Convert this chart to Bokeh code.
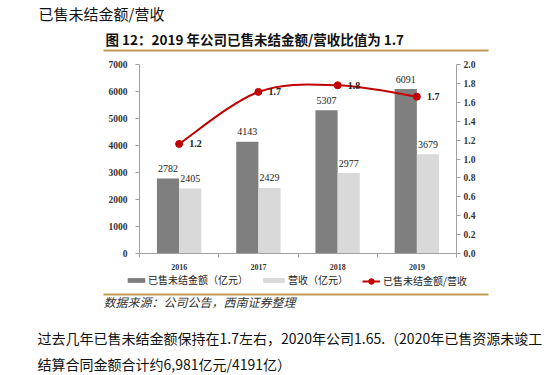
import numpy as np
from bokeh.plotting import figure
from bokeh.models import (Range1d, LinearAxis, FixedTicker, Label, LabelSet,
                          ColumnDataSource, Legend, LegendItem, BoxAnnotation,
                          NumeralTickFormatter)
from bokeh.embed import file_html
from bokeh.resources import INLINE

# ---------------- data ----------------
years = ["2016", "2017", "2018", "2019"]
unsettled = [2782, 4143, 5307, 6091]          # 已售未结金额（亿元）
revenue = [2405, 2429, 2977, 3679]            # 营收（亿元）
ratio = [1.16, 1.71, 1.78, 1.66]              # 已售未结金额/营收
ratio_labels = ["1.2", "1.7", "1.8", "1.7"]
left_ticks = [0, 1000, 2000, 3000, 4000, 5000, 6000, 7000]
right_ticks = [0.0, 0.2, 0.4, 0.6, 0.8, 1.0, 1.2, 1.4, 1.6, 1.8, 2.0]

top_text = "已售未结金额/营收"
title_text = "图 12：2019 年公司已售未结金额/营收比值为 1.7"
source_text = "数据来源：公司公告，西南证券整理"
para1 = "过去几年已售未结金额保持在1.7左右，2020年公司1.65.（2020年已售资源未竣工"
para2 = "结算合同金额合计约6,981亿元/4191亿）"
legend_labels = ["已售未结金额（亿元）", "营收（亿元）", "已售未结金额/营收"]

# ---------------- style / layout (pixels) ----------------
DARK = "#7f7f7f"
LIGHT = "#d9d9d9"
RED = "#c00000"
GOLD = "#c49a52"
AXIS = "#a0a0a0"
CJK = "Noto Sans CJK SC"
NUM = "Liberation Serif"

W, H = 554, 375
AX_L, AX_R = 139, 456      # pixel x of left / right axis
AX_B, AX_T = 253, 64       # pixel y of zero line / top tick

n = len(years)
cat_w = (AX_R - AX_L) / n
ky = (AX_B - AX_T) / left_ticks[-1]
kr = (AX_B - AX_T) / right_ticks[-1]


def dx(px):   # pixel x -> data x
    return (px - AX_L) / cat_w


def dy(py):   # pixel y -> data y (left scale)
    return (AX_B - py) / ky


xc = np.arange(n) + 0.5
bw = 0.28

src = ColumnDataSource(dict(
    x=xc, xd=xc - bw / 2, xl=xc + bw / 2,
    unsettled=unsettled, revenue=revenue, ratio=ratio,
    ul=[str(v) for v in unsettled], rl=[str(v) for v in revenue],
    ratl=ratio_labels))

p = figure(width=W, height=H, output_backend="svg", toolbar_location=None,
           title=None,
           x_range=Range1d(dx(0), dx(W)), y_range=Range1d(dy(H), dy(0)),
           min_border=0)
p.extra_y_ranges = {"ratio": Range1d(-(H - AX_B) / kr, AX_B / kr)}
p.grid.visible = False
p.outline_line_color = None
p.background_fill_color = "white"
p.border_fill_color = "white"

dark = p.vbar(x="xd", top="unsettled", width=bw, source=src,
              fill_color=DARK, line_color=None)
light = p.vbar(x="xl", top="revenue", width=bw, source=src,
               fill_color=LIGHT, line_color=None)


def tangents(v):
    v = np.asarray(v, float)
    m = np.empty_like(v)
    m[1:-1] = (v[2:] - v[:-2]) / 2
    m[0] = (v[1] - v[0]) / 2
    m[-1] = (v[-1] - v[-2]) / 2
    return m


r = np.asarray(ratio, float)
mx, my = tangents(xc), tangents(r)
curve = p.bezier(x0=xc[:-1], y0=r[:-1], x1=xc[1:], y1=r[1:],
                 cx0=xc[:-1] + mx[:-1] / 3, cy0=r[:-1] + my[:-1] / 3,
                 cx1=xc[1:] - mx[1:] / 3, cy1=r[1:] - my[1:] / 3,
                 line_color=RED, line_width=2, y_range_name="ratio")
dots = p.scatter(x="x", y="ratio", source=src, size=7, fill_color=RED,
                 line_color=RED, y_range_name="ratio")

# value labels
p.add_layout(LabelSet(x="xd", y="unsettled", text="ul", source=src,
                      y_offset=10, text_align="center", text_baseline="middle",
                      text_font=NUM, text_font_size="10px", text_color="#222"))
p.add_layout(LabelSet(x="xl", y="revenue", text="rl", source=src,
                      y_offset=10, text_align="center", text_baseline="middle",
                      text_font=NUM, text_font_size="10px", text_color="#222"))
p.add_layout(LabelSet(x="x", y="ratio", text="ratl", source=src,
                      y_range_name="ratio", x_offset=10,
                      text_align="left", text_baseline="middle",
                      text_font=NUM, text_font_size="10px",
                      text_font_style="bold", text_color="#222"))


# axes (fixed at their pixel positions inside the full-canvas frame)
def style_axis(ax):
    ax.axis_line_color = AXIS
    ax.major_tick_line_color = AXIS
    ax.minor_tick_line_color = AXIS
    ax.major_tick_out = 4
    ax.major_tick_in = 0
    ax.minor_tick_out = 0
    ax.minor_tick_in = 0
    ax.major_label_text_font = NUM
    ax.major_label_text_font_style = "bold"
    ax.major_label_text_font_size = "9.5px"
    ax.major_label_text_color = "#333"


yl = p.yaxis[0]
yl.ticker = FixedTicker(ticks=left_ticks)
yl.fixed_location = 0
yl.bounds = (0, left_ticks[-1])
style_axis(yl)
yl.major_label_standoff = 8

yr = LinearAxis(y_range_name="ratio", ticker=FixedTicker(ticks=right_ticks),
                formatter=NumeralTickFormatter(format="0.0"),
                fixed_location=n, bounds=(0, right_ticks[-1]))
style_axis(yr)
yr.major_label_standoff = 3
p.add_layout(yr, "right")

xa = p.xaxis[0]
xa.ticker = FixedTicker(ticks=list(xc), minor_ticks=list(range(n + 1)))
xa.fixed_location = 0
xa.bounds = (0, n)
style_axis(xa)
xa.major_tick_out = 0
xa.minor_tick_out = 4
xa.major_label_text_font_size = "8px"
xa.major_label_standoff = 6
xa.major_label_overrides = {float(x): y for x, y in zip(xc, years)}


# legends (screen units measured from canvas bottom-left)
def add_legend(items, left_px, top_px, gw, gh, standoff):
    lh = 12
    lg = Legend(items=items, location=(left_px, H - top_px - max(lh, gh)),
                orientation="horizontal",
                glyph_width=gw, glyph_height=gh, label_height=lh,
                label_standoff=standoff, padding=0, margin=0, spacing=0,
                border_line_color=None, background_fill_alpha=0,
                label_text_font=CJK, label_text_font_size="10px",
                label_text_color="#222")
    p.add_layout(lg, "center")


add_legend([LegendItem(label=legend_labels[0], renderers=[dark])], 125, 275, 22, 6, 1)
add_legend([LegendItem(label=legend_labels[1], renderers=[light])], 260, 275, 27, 6, 1)
add_legend([LegendItem(label=legend_labels[2], renderers=[curve, dots])], 362, 274, 18, 14, 3)


# texts and rules
def add_text(txt, px, py, size, style="normal", color="#111"):
    p.add_layout(Label(x=dx(px), y=dy(py), text=txt,
                       text_font=CJK, text_font_size=size, text_font_style=style,
                       text_color=color, text_baseline="middle",
                       text_align="left"))


add_text(top_text, 38, 13, "15px")
add_text(title_text, 105, 38, "13.5px", "bold")
add_text(source_text, 103, 301, "12px", "italic", "#333")
add_text(para1, 37, 337, "14px")
add_text(para2, 37, 363, "14px")


def add_rule(x0, x1, py):
    p.add_layout(BoxAnnotation(left=dx(x0), right=dx(x1),
                               bottom=dy(py + 1), top=dy(py - 1),
                               fill_color=GOLD, fill_alpha=1, line_color=None))


add_rule(103, 488, 50)
add_rule(103, 488, 294)

open("out.html", "w").write(file_html(p, INLINE))
